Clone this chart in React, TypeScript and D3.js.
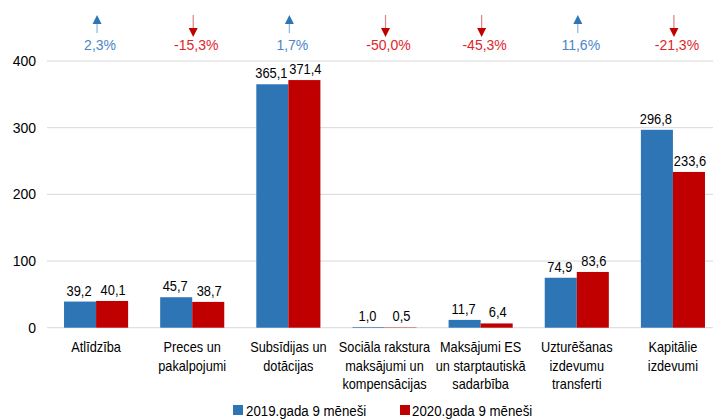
import React from "react";
import * as d3 from "d3";

const categories = [
  ["Atlīdzība"],
  ["Preces un", "pakalpojumi"],
  ["Subsīdijas un", "dotācijas"],
  ["Sociāla rakstura", "maksājumi un", "kompensācijas"],
  ["Maksājumi ES", "un starptautiskā", "sadarbība"],
  ["Uzturēšanas", "izdevumu", "transferti"],
  ["Kapitālie", "izdevumi"],
];
const values2019 = [39.2, 45.7, 365.1, 1.0, 11.7, 74.9, 296.8];
const values2020 = [40.1, 38.7, 371.4, 0.5, 6.4, 83.6, 233.6];
const changes = ["2,3%", "-15,3%", "1,7%", "-50,0%", "-45,3%", "11,6%", "-21,3%"];
const changeUp = [true, false, true, false, false, true, false];
const yTicks = [0, 100, 200, 300, 400];
const seriesNames = ["2019.gada 9 mēneši", "2020.gada 9 mēneši"];

const W = 713;
const H = 419;
const BLUE = "#2E75B6";
const RED = "#C00000";
const FONT = "'Liberation Sans', Arial, sans-serif";
const fmt = (v: number) => v.toFixed(1).replace(".", ",");

export default function App() {
  const x = d3.scaleBand<number>().domain(d3.range(categories.length)).range([48, 721]);
  const y = d3.scaleLinear().domain([0, 400]).range([327.7, 61]);
  const bw = x.bandwidth() / 3;
  return (
    <svg width={W} height={H} style={{ position: "absolute", left: 0, top: 0, background: "#fff" }} fontFamily={FONT}>
      {yTicks.map((t) => (
        <g key={t}>
          <line x1={47} x2={W} y1={y(t)} y2={y(t)} stroke="#D9D9D9" strokeWidth={1} />
          <text x={36} y={y(t) + 5} textAnchor="end" fontSize={14} fill="#000">{t}</text>
        </g>
      ))}
      {categories.map((c, i) => {
        const cx = x(i)! + x.bandwidth() / 2;
        const vals = [values2019[i], values2020[i]];
        return (
          <g key={i}>
            {vals.map((v, s) => {
              const bx = cx - bw + s * bw;
              return (
                <g key={s}>
                  <rect x={bx} y={y(v)} width={bw} height={y(0) - y(v)} fill={s === 0 ? BLUE : RED} />
                  <text transform={`translate(${bx + bw / 2 + (s === 0 ? -1 : 1)},${y(v) - 6}) scale(0.92,1)`} textAnchor="middle" fontSize={14} fill="#000">{fmt(v)}</text>
                </g>
              );
            })}
            {c.map((line, li) => (
              <text key={li} transform={`translate(${cx},${352 + li * 18.5}) scale(0.91,1)`} textAnchor="middle" fontSize={14} fill="#000">{line}</text>
            ))}
            {changeUp[i] ? (
              <g>
                <line x1={cx + 1} x2={cx + 1} y1={20} y2={33} stroke="#8FB4DC" strokeWidth={1.2} />
                <path d={`M${cx + 1 - 4.5},${24} L${cx + 1 + 4.5},${24} L${cx + 1},${15} Z`} fill={BLUE} />
              </g>
            ) : (
              <g>
                <line x1={cx + 1} x2={cx + 1} y1={15} y2={29} stroke="#E08080" strokeWidth={1.2} />
                <path d={`M${cx + 1 - 4.5},${28} L${cx + 1 + 4.5},${28} L${cx + 1},${37} Z`} fill={RED} />
              </g>
            )}
            <text x={cx + 4} y={50} textAnchor="middle" fontSize={14} fill={changeUp[i] ? "#4A86C8" : "#E0262A"}>{changes[i]}</text>
          </g>
        );
      })}
      {seriesNames.map((n, s) => (
        <g key={s}>
          <rect x={s === 0 ? 233 : 400} y={405} width={10} height={10} fill={s === 0 ? BLUE : RED} />
          <text transform={`translate(${s === 0 ? 246 : 412},${416}) scale(0.91,1)`} fontSize={14.6} fill="#000">{n}</text>
        </g>
      ))}
    </svg>
  );
}
